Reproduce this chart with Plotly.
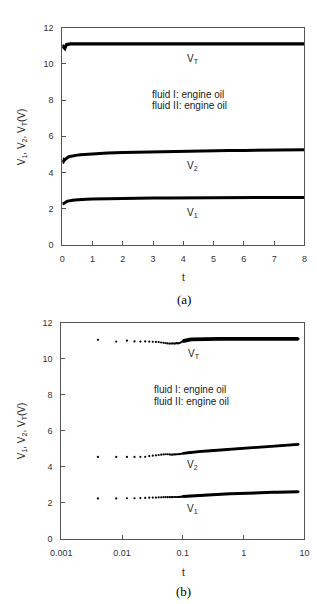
import plotly.graph_objects as go

# ---- data ----
t = [0.004, 0.008, 0.012, 0.016, 0.020, 0.024, 0.028, 0.032, 0.036, 0.040,
     0.044, 0.048, 0.052, 0.056, 0.060, 0.064, 0.068, 0.072, 0.076, 0.080,
     0.084, 0.088, 0.092, 0.096, 0.100,
     0.11, 0.12, 0.13, 0.14, 0.16, 0.18, 0.20,
     0.25, 0.3, 0.4, 0.5, 0.6, 0.8, 1.0,
     1.25, 1.5, 2.0, 2.5, 3.0, 3.5, 4.0, 4.5, 5.0, 5.5, 6.0, 6.5, 7.0, 7.5, 8.0]

VT = [11.05, 10.95, 11.00, 10.96, 10.95, 10.96, 10.95, 10.94, 10.93, 10.92,
      10.90, 10.88, 10.86, 10.85, 10.84, 10.84, 10.85, 10.84, 10.85, 10.86,
      10.85, 10.87, 10.90, 10.93, 10.97,
      11.02, 11.05, 11.06, 11.07, 11.08, 11.07, 11.08,
      11.10, 11.09, 11.10, 11.10, 11.10, 11.10, 11.11,
      11.10, 11.10, 11.11, 11.10, 11.10, 11.11, 11.10, 11.10, 11.11, 11.10,
      11.10, 11.11, 11.10, 11.10, 11.10]

V2 = [4.55, 4.55, 4.55, 4.55, 4.56, 4.56, 4.60, 4.62, 4.64, 4.66,
      4.68, 4.69, 4.70, 4.70, 4.69, 4.68, 4.68, 4.69, 4.69, 4.70,
      4.70, 4.71, 4.72, 4.73, 4.75,
      4.77, 4.79, 4.80, 4.81, 4.83, 4.85, 4.86,
      4.88, 4.90, 4.93, 4.96, 4.98, 5.01, 5.04,
      5.06, 5.08, 5.11, 5.13, 5.15, 5.16, 5.18, 5.19, 5.20, 5.21,
      5.22, 5.23, 5.24, 5.24, 5.25]

V1 = [2.25, 2.25, 2.26, 2.26, 2.27, 2.28, 2.29, 2.30, 2.30, 2.31,
      2.31, 2.32, 2.32, 2.32, 2.32, 2.32, 2.32, 2.33, 2.33, 2.33,
      2.33, 2.34, 2.34, 2.35, 2.36,
      2.37, 2.38, 2.39, 2.40, 2.41, 2.42, 2.43,
      2.45, 2.46, 2.48, 2.50, 2.51, 2.53, 2.54,
      2.55, 2.56, 2.57, 2.58, 2.59, 2.59, 2.60, 2.60, 2.60, 2.61,
      2.61, 2.61, 2.62, 2.62, 2.62]

x_lin_ticks = [0, 1, 2, 3, 4, 5, 6, 7, 8]
y_ticks = [0, 2, 4, 6, 8, 10, 12]
x_log_tickvals = [0.001, 0.01, 0.1, 1, 10]
x_log_ticktext = ["0.001", "0.01", "0.1", "1", "10"]

W, H = 317, 604
LINE_BREAK_T = 0.1  # in the log panel, early samples are drawn as separate dots

fig = go.Figure()

# ---- top panel (linear t) ----
for v, w in ((VT, 3.2), (V2, 3.0), (V1, 3.0)):
    fig.add_trace(go.Scatter(x=t, y=v, mode="lines", xaxis="x", yaxis="y",
                             line=dict(color="black", width=w), showlegend=False))

# ---- bottom panel (log t) ----
for v, w in ((VT, 3.8), (V2, 2.8), (V1, 3.0)):
    fig.add_trace(go.Scatter(x=t, y=v, mode="markers", xaxis="x2", yaxis="y2",
                             marker=dict(color="black", size=2.2), showlegend=False))
    late_t = [tt for tt in t if tt >= LINE_BREAK_T - 1e-9]
    late_v = [vv for tt, vv in zip(t, v) if tt >= LINE_BREAK_T - 1e-9]
    fig.add_trace(go.Scatter(x=late_t, y=late_v, mode="lines", xaxis="x2", yaxis="y2",
                             line=dict(color="black", width=w), showlegend=False))

def px(x):
    return x / W

def py(y):
    return 1 - y / H

axis_common = dict(
    showgrid=False, zeroline=False, showline=True, linecolor="#555",
    linewidth=1, mirror=True, ticks="inside", ticklen=4, tickcolor="#555",
    tickfont=dict(family="Liberation Sans, Arial", size=9, color="#333"),
)

fig.update_layout(
    width=W, height=H, margin=dict(l=0, r=0, t=0, b=0),
    paper_bgcolor="white", plot_bgcolor="white",
    xaxis=dict(domain=[px(54), px(309)], range=[0, 8], tickvals=x_lin_ticks,
               anchor="y", ticklabelstandoff=5, **axis_common),
    yaxis=dict(domain=[py(244), py(23)], range=[0, 12], tickvals=y_ticks,
               anchor="x", ticklabelstandoff=6, **axis_common),
    xaxis2=dict(domain=[px(53), px(309)], type="log", range=[-3, 1],
                tickvals=x_log_tickvals, ticktext=x_log_ticktext,
                anchor="y2", ticklabelstandoff=5, **axis_common),
    yaxis2=dict(domain=[py(543), py(323)], range=[0, 12], tickvals=y_ticks,
                anchor="x2", ticklabelstandoff=6, **axis_common),
)

sans = dict(family="Liberation Sans, Arial", size=10, color="#222")
sans_mid = dict(family="Liberation Sans, Arial", size=10, color="#222")
serif = dict(family="Liberation Serif, Times New Roman", size=13, color="black")

ann = []
def add(text, x, y, font, xanchor="center", angle=0):
    ann.append(dict(text=text, x=px(x), y=py(y), xref="paper", yref="paper",
                    showarrow=False, font=font, xanchor=xanchor, yanchor="middle",
                    textangle=angle))

ytitle = "V<sub>1</sub>, V<sub>2</sub>, V<sub>T</sub>(V)"
# top panel labels
add("V<sub>T</sub>", 183, 55, sans, xanchor="left")
add("fluid I: engine oil", 146, 91, sans_mid, xanchor="left")
add("fluid II: engine oil", 146, 102, sans_mid, xanchor="left")
add("V<sub>2</sub>", 183, 164, sans, xanchor="left")
add("V<sub>1</sub>", 183, 211, sans, xanchor="left")
add("t", 182, 277, sans)
add("(a)", 182, 299, serif)
add(ytitle, 11, 134, sans, angle=-90)
# bottom panel labels
add("V<sub>T</sub>", 184, 355, sans, xanchor="left")
add("fluid I: engine oil", 148, 391, sans_mid, xanchor="left")
add("fluid II: engine oil", 148, 403, sans_mid, xanchor="left")
add("V<sub>2</sub>", 183, 468, sans, xanchor="left")
add("V<sub>1</sub>", 183, 512, sans, xanchor="left")
add("t", 182, 577, sans)
add("(b)", 182, 596, serif)
add(ytitle, 11, 433, sans, angle=-90)

fig.update_layout(annotations=ann)
fig.write_html("out.html")
